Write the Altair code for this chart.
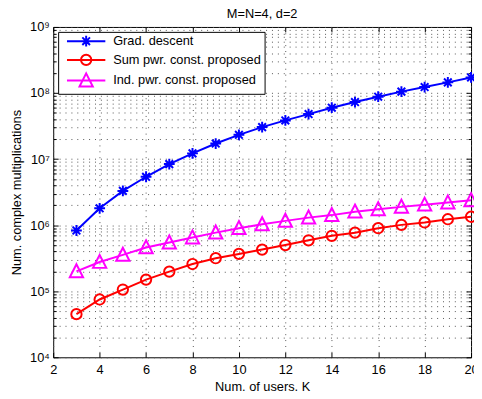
import altair as alt
import pandas as pd

K = list(range(3, 21))
grad = [8.3e5, 1.8e6, 3.3e6, 5.4e6, 8.4e6, 1.22e7, 1.72e7, 2.33e7, 3.05e7,
        3.85e7, 4.8e7, 6.0e7, 7.3e7, 8.8e7, 1.05e8, 1.23e8, 1.45e8, 1.72e8]
sum_pwr = [4.5e4, 7.5e4, 1.06e5, 1.5e5, 1.98e5, 2.58e5, 3.16e5, 3.67e5, 4.27e5,
           5.0e5, 5.9e5, 6.9e5, 7.7e5, 9.0e5, 1.01e6, 1.1e6, 1.23e6, 1.34e6]
ind_pwr = [2.0e5, 2.77e5, 3.55e5, 4.6e5, 5.45e5, 6.5e5, 7.7e5, 9.0e5, 1.03e6,
           1.16e6, 1.3e6, 1.42e6, 1.6e6, 1.74e6, 1.89e6, 2.04e6, 2.2e6, 2.38e6]
series_names = ["Grad. descent", "Sum pwr. const. proposed", "Ind. pwr. const. proposed"]
colors = ["#0000ff", "#ff0000", "#ff00ff"]
x_ticks = [2, 4, 6, 8, 10, 12, 14, 16, 18, 20]
y_major = [1e4, 1e5, 1e6, 1e7, 1e8, 1e9]
y_minor = [m * 10 ** e for e in range(4, 9) for m in range(2, 10)]

rows = []
for name, vals in zip(series_names, [grad, sum_pwr, ind_pwr]):
    for k, v in zip(K, vals):
        rows.append({"K": k, "value": v, "series": name})
df = pd.DataFrame(rows)

FONT = "Liberation Sans"
AST = "M-1.1,0H1.1M0,-1.1V1.1M-0.78,-0.78L0.78,0.78M-0.78,0.78L0.78,-0.78"
TRI = "M0,-1.45L1.35,1.2L-1.35,1.2Z"
CIR = ("M1.05,0C1.05,0.58,0.58,1.05,0,1.05C-0.58,1.05,-1.05,0.58,-1.05,0"
       "C-1.05,-0.58,-0.58,-1.05,0,-1.05C0.58,-1.05,1.05,-0.58,1.05,0Z")
leg_paths = ["M-3.9,0H3.9" + AST, "M-3.9,0H3.9" + CIR, "M-3.9,0H3.9" + TRI]
plot_shapes = [AST, "circle", TRI]
plot_sizes = [100, 110, 100]

xscale = alt.Scale(domain=[2, 20], nice=False, zero=False)
yscale = alt.Scale(type="log", domain=[1e4, 1e9], nice=False)

major_list = "[" + ",".join(str(int(v)) for v in y_major) + "]"
label_expr = (
    "indexof(" + major_list + ", datum.value) >= 0 ? '10' + "
    "substring('⁰¹²³⁴⁵⁶⁷⁸⁹', round(log(datum.value)/LN10), round(log(datum.value)/LN10)+1) : ''"
)

base = alt.Chart(df)

# axis-carrying (invisible) layer with labels and grid
main_axes = base.mark_point(opacity=0).encode(
    x=alt.X("K:Q", scale=xscale, axis=alt.Axis(
        orient="bottom", values=x_ticks, title="Num. of users, K", grid=True,
        tickSize=0, domain=False, labelPadding=6, titlePadding=5, labelFlush=False)),
    y=alt.Y("value:Q", scale=yscale, axis=alt.Axis(
        orient="left", values=y_major + y_minor, labelExpr=label_expr, grid=True,
        tickSize=0, domain=False, labelPadding=4, titleX=-30,
        title="Num. complex multiplications")),
)

series_layers = []
for name, col, shp, sz in zip(series_names, colors, plot_shapes, plot_sizes):
    sub = base.transform_filter(alt.datum.series == name)
    enc = dict(
        x=alt.X("K:Q", scale=xscale, axis=None),
        y=alt.Y("value:Q", scale=yscale, axis=None),
    )
    series_layers.append(sub.mark_line(strokeWidth=2, color=col).encode(**enc))
    series_layers.append(
        sub.mark_point(shape=shp, size=sz, filled=False, strokeWidth=2, opacity=1,
                       color=col).encode(**enc)
    )

leg_kwargs = dict(
    orient="none", legendX=5, legendY=5, title=None, strokeColor="black",
    fillColor="white", padding=3, symbolSize=100, symbolStrokeWidth=2,
    symbolOffset=19, labelOffset=21, labelFontSize=13, labelFont=FONT,
    rowPadding=0, labelLimit=400, labelColor="black", symbolOpacity=1,
)
legend_layer = (
    base.mark_point(filled=False, strokeWidth=2)
    .encode(
        x=alt.X("K:Q", scale=xscale, axis=None),
        y=alt.Y("value:Q", scale=yscale, axis=None),
        opacity=alt.value(0),
        stroke=alt.Stroke("series:N", scale=alt.Scale(domain=series_names, range=colors),
                          legend=alt.Legend(**leg_kwargs)),
        shape=alt.Shape("series:N", scale=alt.Scale(domain=series_names, range=leg_paths),
                        legend=alt.Legend(**leg_kwargs)),
    )
)


def tick_layer(xaxis, yaxis):
    return (
        base.mark_point(opacity=0)
        .encode(
            x=alt.X("K:Q", scale=xscale, axis=xaxis),
            y=alt.Y("value:Q", scale=yscale, axis=yaxis),
        )
    )


def tick_axis(orient, values, size):
    return alt.Axis(orient=orient, values=values, offset=-size, tickSize=size,
                    labels=False, domain=False, grid=False, title=None,
                    tickColor="black", tickWidth=1)


t1 = tick_layer(tick_axis("bottom", x_ticks, 5), tick_axis("left", y_major, 5))
t2 = tick_layer(tick_axis("top", x_ticks, 5), tick_axis("right", y_major, 5))
t3 = tick_layer(None, tick_axis("left", y_minor, 3))
t4 = tick_layer(None, tick_axis("right", y_minor, 3))

chart = (
    alt.layer(main_axes, *series_layers, t1, t2, t3, t4, legend_layer)
    .resolve_axis(x="independent", y="independent")
    .properties(
        width=425, height=336,
        autosize=alt.AutoSizeParams(type="none"),
        padding={"left": 46, "top": 16, "right": 3, "bottom": 31},
        title=alt.TitleParams("M=N=4, d=2", fontSize=13, fontWeight="normal",
                              font=FONT, frame="group", offset=0, color="black"),
    )
    .configure_view(stroke="black", strokeWidth=1)
    .configure_axis(
        labelFont=FONT, titleFont=FONT, labelFontSize=13, titleFontSize=13,
        titleFontWeight="normal", labelColor="black", titleColor="black",
        gridColor="#555555", gridDash=[1, 5], gridOpacity=1, gridWidth=1,
    )
)

chart.save("out.html", embed_options={"renderer": "svg", "actions": False})
